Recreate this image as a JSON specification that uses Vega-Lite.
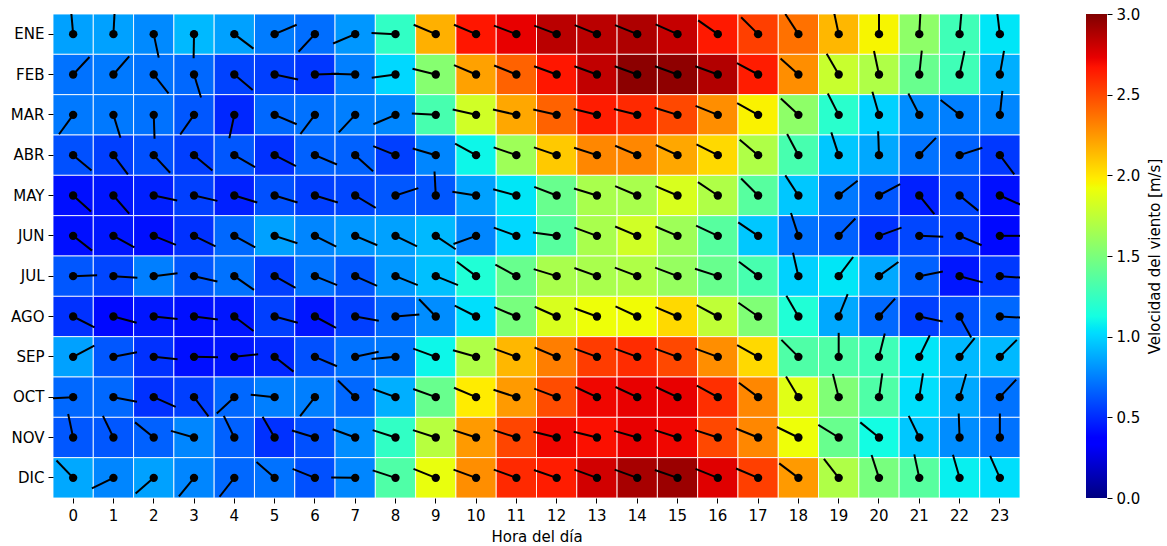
{
  "$schema": "https://vega.github.io/schema/vega-lite/v6.json",
  "padding": {"left": 10, "top": 7, "right": 0, "bottom": 0},
  "background": "white",
  "spacing": 65,
  "config": {
    "view": {"stroke": null},
    "font": "DejaVu Sans",
    "axis": {
      "domain": false,
      "grid": false,
      "ticks": true,
      "tickColor": "black",
      "tickSize": 5,
      "tickWidth": 1,
      "labelFont": "DejaVu Sans",
      "labelFontSize": 15,
      "labelColor": "black",
      "labelPadding": 4,
      "titleFont": "DejaVu Sans",
      "titleFontSize": 15,
      "titleFontWeight": "normal",
      "titleColor": "black"
    }
  },
  "datasets": {
    "wind": [
      {"m":"ENE","h":0,"v":0.85,"d":355},{"m":"ENE","h":1,"v":0.85,"d":3},{"m":"ENE","h":2,"v":0.78,"d":168},{"m":"ENE","h":3,"v":0.92,"d":181},{"m":"ENE","h":4,"v":0.85,"d":127},{"m":"ENE","h":5,"v":0.74,"d":67},{"m":"ENE","h":6,"v":0.70,"d":223},{"m":"ENE","h":7,"v":0.82,"d":247},{"m":"ENE","h":8,"v":1.23,"d":273},{"m":"ENE","h":9,"v":2.17,"d":293},{"m":"ENE","h":10,"v":2.66,"d":293},{"m":"ENE","h":11,"v":2.73,"d":291},{"m":"ENE","h":12,"v":2.85,"d":291},{"m":"ENE","h":13,"v":2.85,"d":292},{"m":"ENE","h":14,"v":2.88,"d":292},{"m":"ENE","h":15,"v":2.82,"d":294},{"m":"ENE","h":16,"v":2.65,"d":305},{"m":"ENE","h":17,"v":2.53,"d":315},{"m":"ENE","h":18,"v":2.37,"d":327},{"m":"ENE","h":19,"v":2.15,"d":348},{"m":"ENE","h":20,"v":1.95,"d":0},{"m":"ENE","h":21,"v":1.57,"d":3},{"m":"ENE","h":22,"v":1.28,"d":5},{"m":"ENE","h":23,"v":1.05,"d":353},
      {"m":"FEB","h":0,"v":0.71,"d":43},{"m":"FEB","h":1,"v":0.73,"d":41},{"m":"FEB","h":2,"v":0.71,"d":142},{"m":"FEB","h":3,"v":0.68,"d":163},{"m":"FEB","h":4,"v":0.57,"d":130},{"m":"FEB","h":5,"v":0.56,"d":102},{"m":"FEB","h":6,"v":0.53,"d":88},{"m":"FEB","h":7,"v":0.75,"d":272},{"m":"FEB","h":8,"v":1.01,"d":262},{"m":"FEB","h":9,"v":1.54,"d":284},{"m":"FEB","h":10,"v":2.22,"d":293},{"m":"FEB","h":11,"v":2.42,"d":292},{"m":"FEB","h":12,"v":2.66,"d":290},{"m":"FEB","h":13,"v":2.83,"d":290},{"m":"FEB","h":14,"v":2.97,"d":290},{"m":"FEB","h":15,"v":2.96,"d":290},{"m":"FEB","h":16,"v":2.87,"d":290},{"m":"FEB","h":17,"v":2.64,"d":298},{"m":"FEB","h":18,"v":2.28,"d":312},{"m":"FEB","h":19,"v":1.78,"d":330},{"m":"FEB","h":20,"v":1.69,"d":348},{"m":"FEB","h":21,"v":1.43,"d":6},{"m":"FEB","h":22,"v":1.28,"d":12},{"m":"FEB","h":23,"v":0.89,"d":10},
      {"m":"MAR","h":0,"v":0.73,"d":216},{"m":"MAR","h":1,"v":0.73,"d":163},{"m":"MAR","h":2,"v":0.71,"d":178},{"m":"MAR","h":3,"v":0.63,"d":215},{"m":"MAR","h":4,"v":0.49,"d":192},{"m":"MAR","h":5,"v":0.68,"d":113},{"m":"MAR","h":6,"v":0.71,"d":217},{"m":"MAR","h":7,"v":0.75,"d":223},{"m":"MAR","h":8,"v":0.77,"d":247},{"m":"MAR","h":9,"v":1.31,"d":273},{"m":"MAR","h":10,"v":1.81,"d":283},{"m":"MAR","h":11,"v":2.2,"d":283},{"m":"MAR","h":12,"v":2.42,"d":283},{"m":"MAR","h":13,"v":2.64,"d":284},{"m":"MAR","h":14,"v":2.6,"d":284},{"m":"MAR","h":15,"v":2.5,"d":287},{"m":"MAR","h":16,"v":2.28,"d":292},{"m":"MAR","h":17,"v":1.96,"d":299},{"m":"MAR","h":18,"v":1.57,"d":313},{"m":"MAR","h":19,"v":1.2,"d":333},{"m":"MAR","h":20,"v":0.99,"d":344},{"m":"MAR","h":21,"v":0.79,"d":333},{"m":"MAR","h":22,"v":0.75,"d":308},{"m":"MAR","h":23,"v":0.77,"d":6},
      {"m":"ABR","h":0,"v":0.61,"d":130},{"m":"ABR","h":1,"v":0.56,"d":143},{"m":"ABR","h":2,"v":0.61,"d":137},{"m":"ABR","h":3,"v":0.56,"d":130},{"m":"ABR","h":4,"v":0.63,"d":120},{"m":"ABR","h":5,"v":0.52,"d":117},{"m":"ABR","h":6,"v":0.66,"d":113},{"m":"ABR","h":7,"v":0.66,"d":132},{"m":"ABR","h":8,"v":0.56,"d":292},{"m":"ABR","h":9,"v":0.77,"d":286},{"m":"ABR","h":10,"v":1.1,"d":299},{"m":"ABR","h":11,"v":1.63,"d":289},{"m":"ABR","h":12,"v":2.09,"d":289},{"m":"ABR","h":13,"v":2.3,"d":288},{"m":"ABR","h":14,"v":2.3,"d":293},{"m":"ABR","h":15,"v":2.2,"d":295},{"m":"ABR","h":16,"v":2.04,"d":297},{"m":"ABR","h":17,"v":1.69,"d":310},{"m":"ABR","h":18,"v":1.31,"d":332},{"m":"ABR","h":19,"v":0.96,"d":342},{"m":"ABR","h":20,"v":0.87,"d":358},{"m":"ABR","h":21,"v":0.71,"d":44},{"m":"ABR","h":22,"v":0.66,"d":72},{"m":"ABR","h":23,"v":0.54,"d":143},
      {"m":"MAY","h":0,"v":0.42,"d":132},{"m":"MAY","h":1,"v":0.44,"d":139},{"m":"MAY","h":2,"v":0.47,"d":102},{"m":"MAY","h":3,"v":0.56,"d":103},{"m":"MAY","h":4,"v":0.47,"d":107},{"m":"MAY","h":5,"v":0.61,"d":107},{"m":"MAY","h":6,"v":0.56,"d":107},{"m":"MAY","h":7,"v":0.58,"d":121},{"m":"MAY","h":8,"v":0.63,"d":72},{"m":"MAY","h":9,"v":0.63,"d":357},{"m":"MAY","h":10,"v":0.85,"d":279},{"m":"MAY","h":11,"v":1.05,"d":285},{"m":"MAY","h":12,"v":1.43,"d":291},{"m":"MAY","h":13,"v":1.67,"d":287},{"m":"MAY","h":14,"v":1.67,"d":293},{"m":"MAY","h":15,"v":1.84,"d":293},{"m":"MAY","h":16,"v":1.69,"d":304},{"m":"MAY","h":17,"v":1.37,"d":315},{"m":"MAY","h":18,"v":0.96,"d":327},{"m":"MAY","h":19,"v":0.73,"d":52},{"m":"MAY","h":20,"v":0.63,"d":62},{"m":"MAY","h":21,"v":0.47,"d":141},{"m":"MAY","h":22,"v":0.58,"d":129},{"m":"MAY","h":23,"v":0.42,"d":114},
      {"m":"JUN","h":0,"v":0.42,"d":128},{"m":"JUN","h":1,"v":0.44,"d":119},{"m":"JUN","h":2,"v":0.42,"d":112},{"m":"JUN","h":3,"v":0.52,"d":116},{"m":"JUN","h":4,"v":0.68,"d":119},{"m":"JUN","h":5,"v":0.85,"d":108},{"m":"JUN","h":6,"v":0.77,"d":117},{"m":"JUN","h":7,"v":0.82,"d":113},{"m":"JUN","h":8,"v":0.85,"d":116},{"m":"JUN","h":9,"v":0.92,"d":124},{"m":"JUN","h":10,"v":0.77,"d":250},{"m":"JUN","h":11,"v":1.01,"d":290},{"m":"JUN","h":12,"v":1.37,"d":278},{"m":"JUN","h":13,"v":1.67,"d":290},{"m":"JUN","h":14,"v":1.81,"d":293},{"m":"JUN","h":15,"v":1.63,"d":293},{"m":"JUN","h":16,"v":1.37,"d":295},{"m":"JUN","h":17,"v":0.96,"d":304},{"m":"JUN","h":18,"v":0.71,"d":342},{"m":"JUN","h":19,"v":0.66,"d":44},{"m":"JUN","h":20,"v":0.52,"d":70},{"m":"JUN","h":21,"v":0.58,"d":92},{"m":"JUN","h":22,"v":0.56,"d":113},{"m":"JUN","h":23,"v":0.40,"d":90},
      {"m":"JUL","h":0,"v":0.63,"d":88},{"m":"JUL","h":1,"v":0.58,"d":94},{"m":"JUL","h":2,"v":0.75,"d":83},{"m":"JUL","h":3,"v":0.63,"d":103},{"m":"JUL","h":4,"v":0.71,"d":125},{"m":"JUL","h":5,"v":0.56,"d":119},{"m":"JUL","h":6,"v":0.71,"d":112},{"m":"JUL","h":7,"v":0.63,"d":114},{"m":"JUL","h":8,"v":0.82,"d":112},{"m":"JUL","h":9,"v":0.94,"d":112},{"m":"JUL","h":10,"v":1.17,"d":307},{"m":"JUL","h":11,"v":1.43,"d":299},{"m":"JUL","h":12,"v":1.67,"d":287},{"m":"JUL","h":13,"v":1.67,"d":290},{"m":"JUL","h":14,"v":1.69,"d":291},{"m":"JUL","h":15,"v":1.6,"d":291},{"m":"JUL","h":16,"v":1.43,"d":288},{"m":"JUL","h":17,"v":1.31,"d":307},{"m":"JUL","h":18,"v":0.99,"d":347},{"m":"JUL","h":19,"v":1.05,"d":37},{"m":"JUL","h":20,"v":0.87,"d":54},{"m":"JUL","h":21,"v":0.66,"d":79},{"m":"JUL","h":22,"v":0.44,"d":105},{"m":"JUL","h":23,"v":0.54,"d":94},
      {"m":"AGO","h":0,"v":0.52,"d":117},{"m":"AGO","h":1,"v":0.40,"d":105},{"m":"AGO","h":2,"v":0.44,"d":96},{"m":"AGO","h":3,"v":0.42,"d":97},{"m":"AGO","h":4,"v":0.44,"d":127},{"m":"AGO","h":5,"v":0.56,"d":105},{"m":"AGO","h":6,"v":0.44,"d":118},{"m":"AGO","h":7,"v":0.56,"d":100},{"m":"AGO","h":8,"v":0.68,"d":85},{"m":"AGO","h":9,"v":0.79,"d":316},{"m":"AGO","h":10,"v":1.03,"d":297},{"m":"AGO","h":11,"v":1.49,"d":293},{"m":"AGO","h":12,"v":1.84,"d":294},{"m":"AGO","h":13,"v":1.92,"d":290},{"m":"AGO","h":14,"v":1.93,"d":295},{"m":"AGO","h":15,"v":2.04,"d":293},{"m":"AGO","h":16,"v":1.75,"d":298},{"m":"AGO","h":17,"v":1.52,"d":305},{"m":"AGO","h":18,"v":1.17,"d":330},{"m":"AGO","h":19,"v":0.87,"d":22},{"m":"AGO","h":20,"v":0.68,"d":42},{"m":"AGO","h":21,"v":0.56,"d":102},{"m":"AGO","h":22,"v":0.61,"d":151},{"m":"AGO","h":23,"v":0.68,"d":93},
      {"m":"SEP","h":0,"v":0.85,"d":62},{"m":"SEP","h":1,"v":0.63,"d":79},{"m":"SEP","h":2,"v":0.52,"d":96},{"m":"SEP","h":3,"v":0.42,"d":91},{"m":"SEP","h":4,"v":0.44,"d":84},{"m":"SEP","h":5,"v":0.49,"d":128},{"m":"SEP","h":6,"v":0.61,"d":113},{"m":"SEP","h":7,"v":0.71,"d":78},{"m":"SEP","h":8,"v":0.73,"d":265},{"m":"SEP","h":9,"v":1.1,"d":290},{"m":"SEP","h":10,"v":1.69,"d":286},{"m":"SEP","h":11,"v":2.15,"d":290},{"m":"SEP","h":12,"v":2.33,"d":293},{"m":"SEP","h":13,"v":2.54,"d":290},{"m":"SEP","h":14,"v":2.59,"d":290},{"m":"SEP","h":15,"v":2.5,"d":290},{"m":"SEP","h":16,"v":2.28,"d":290},{"m":"SEP","h":17,"v":2.04,"d":299},{"m":"SEP","h":18,"v":1.34,"d":315},{"m":"SEP","h":19,"v":1.34,"d":0},{"m":"SEP","h":20,"v":1.28,"d":14},{"m":"SEP","h":21,"v":1.05,"d":26},{"m":"SEP","h":22,"v":0.92,"d":39},{"m":"SEP","h":23,"v":0.92,"d":45},
      {"m":"OCT","h":0,"v":0.68,"d":267},{"m":"OCT","h":1,"v":0.68,"d":101},{"m":"OCT","h":2,"v":0.52,"d":114},{"m":"OCT","h":3,"v":0.56,"d":143},{"m":"OCT","h":4,"v":0.68,"d":227},{"m":"OCT","h":5,"v":0.75,"d":276},{"m":"OCT","h":6,"v":0.75,"d":218},{"m":"OCT","h":7,"v":0.68,"d":314},{"m":"OCT","h":8,"v":0.89,"d":290},{"m":"OCT","h":9,"v":1.43,"d":290},{"m":"OCT","h":10,"v":1.98,"d":293},{"m":"OCT","h":11,"v":2.24,"d":288},{"m":"OCT","h":12,"v":2.49,"d":291},{"m":"OCT","h":13,"v":2.71,"d":295},{"m":"OCT","h":14,"v":2.73,"d":295},{"m":"OCT","h":15,"v":2.73,"d":295},{"m":"OCT","h":16,"v":2.58,"d":299},{"m":"OCT","h":17,"v":2.3,"d":307},{"m":"OCT","h":18,"v":1.87,"d":329},{"m":"OCT","h":19,"v":1.52,"d":346},{"m":"OCT","h":20,"v":1.34,"d":8},{"m":"OCT","h":21,"v":1.03,"d":9},{"m":"OCT","h":22,"v":0.87,"d":16},{"m":"OCT","h":23,"v":0.71,"d":43},
      {"m":"NOV","h":0,"v":0.63,"d":348},{"m":"NOV","h":1,"v":0.63,"d":334},{"m":"NOV","h":2,"v":0.66,"d":309},{"m":"NOV","h":3,"v":0.77,"d":286},{"m":"NOV","h":4,"v":0.66,"d":334},{"m":"NOV","h":5,"v":0.52,"d":330},{"m":"NOV","h":6,"v":0.61,"d":287},{"m":"NOV","h":7,"v":0.79,"d":290},{"m":"NOV","h":8,"v":1.23,"d":288},{"m":"NOV","h":9,"v":1.72,"d":288},{"m":"NOV","h":10,"v":2.24,"d":288},{"m":"NOV","h":11,"v":2.51,"d":288},{"m":"NOV","h":12,"v":2.71,"d":284},{"m":"NOV","h":13,"v":2.68,"d":284},{"m":"NOV","h":14,"v":2.73,"d":286},{"m":"NOV","h":15,"v":2.71,"d":288},{"m":"NOV","h":16,"v":2.5,"d":288},{"m":"NOV","h":17,"v":2.3,"d":292},{"m":"NOV","h":18,"v":1.92,"d":296},{"m":"NOV","h":19,"v":1.43,"d":302},{"m":"NOV","h":20,"v":1.12,"d":309},{"m":"NOV","h":21,"v":0.96,"d":334},{"m":"NOV","h":22,"v":0.79,"d":358},{"m":"NOV","h":23,"v":0.71,"d":0},
      {"m":"DIC","h":0,"v":0.87,"d":316},{"m":"DIC","h":1,"v":0.77,"d":244},{"m":"DIC","h":2,"v":0.85,"d":229},{"m":"DIC","h":3,"v":0.77,"d":219},{"m":"DIC","h":4,"v":0.68,"d":218},{"m":"DIC","h":5,"v":0.71,"d":311},{"m":"DIC","h":6,"v":0.61,"d":292},{"m":"DIC","h":7,"v":0.77,"d":271},{"m":"DIC","h":8,"v":1.34,"d":288},{"m":"DIC","h":9,"v":1.9,"d":292},{"m":"DIC","h":10,"v":2.28,"d":290},{"m":"DIC","h":11,"v":2.6,"d":290},{"m":"DIC","h":12,"v":2.64,"d":289},{"m":"DIC","h":13,"v":2.79,"d":290},{"m":"DIC","h":14,"v":2.9,"d":290},{"m":"DIC","h":15,"v":2.93,"d":289},{"m":"DIC","h":16,"v":2.75,"d":292},{"m":"DIC","h":17,"v":2.53,"d":293},{"m":"DIC","h":18,"v":2.24,"d":307},{"m":"DIC","h":19,"v":1.69,"d":322},{"m":"DIC","h":20,"v":1.49,"d":342},{"m":"DIC","h":21,"v":1.37,"d":348},{"m":"DIC","h":22,"v":1.08,"d":344},{"m":"DIC","h":23,"v":1.03,"d":336}
    ]
  },
  "hconcat": [
    {
      "width": 967,
      "height": 484,
      "data": {"name": "wind"},
      "encoding": {
        "x": {"field": "h", "type": "ordinal", "scale": {"type": "band", "paddingInner": 0, "paddingOuter": 0}, "axis": {"title": "Hora del día", "labelAngle": 0, "labelPadding": 5, "titlePadding": 6}},
        "y": {"field": "m", "type": "ordinal", "sort": ["ENE","FEB","MAR","ABR","MAY","JUN","JUL","AGO","SEP","OCT","NOV","DIC"], "scale": {"type": "band", "paddingInner": 0, "paddingOuter": 0}, "axis": {"title": null}}
      },
      "layer": [
        {
          "mark": {"type": "rect", "stroke": "white", "strokeWidth": 1, "strokeOpacity": 0.85},
          "encoding": {
            "color": {
              "field": "v", "type": "quantitative", "legend": null,
              "scale": {
                "domain": [0, 0.33, 0.375, 1.02, 1.05, 1.125, 1.92, 1.95, 1.98, 2.67, 2.73, 3],
                "range": ["#000080", "#0000FF", "#0000FF", "#00DBFF", "#00E6F7", "#14FFE2", "#EEFF08", "#F7F500", "#FFEC00", "#FF1300", "#E80000", "#800000"],
                "interpolate": "rgb"
              }
            }
          }
        },
        {
          "mark": {"type": "point", "shape": "M0,0L0,-1", "size": 2304, "filled": false, "stroke": "black", "strokeWidth": 2, "opacity": 1, "clip": true},
          "encoding": {
            "angle": {"field": "d", "type": "quantitative", "scale": {"domain": [0, 360], "range": [0, 360]}}
          }
        },
        {
          "mark": {"type": "point", "shape": "circle", "size": 70, "filled": true, "color": "black", "opacity": 1}
        }
      ]
    },
    {
      "width": 21,
      "height": 484,
      "data": {"values": [{"lo": 0, "hi": 3}]},
      "mark": {
        "type": "rect",
        "fill": {
          "gradient": "linear", "x1": 0, "y1": 1, "x2": 0, "y2": 0,
          "stops": [
            {"offset": 0, "color": "#000080"},
            {"offset": 0.11, "color": "#0000FF"},
            {"offset": 0.125, "color": "#0000FF"},
            {"offset": 0.34, "color": "#00DBFF"},
            {"offset": 0.35, "color": "#00E6F7"},
            {"offset": 0.375, "color": "#14FFE2"},
            {"offset": 0.64, "color": "#EEFF08"},
            {"offset": 0.65, "color": "#F7F500"},
            {"offset": 0.66, "color": "#FFEC00"},
            {"offset": 0.89, "color": "#FF1300"},
            {"offset": 0.91, "color": "#E80000"},
            {"offset": 1, "color": "#800000"}
          ]
        }
      },
      "encoding": {
        "y": {"field": "lo", "type": "quantitative", "scale": {"domain": [0, 3], "nice": false, "zero": false}, "axis": {"orient": "right", "values": [0, 0.5, 1, 1.5, 2, 2.5, 3], "format": ".1f", "title": "Velocidad del viento [m/s]", "titleAngle": 270, "titleBaseline": "top", "titlePadding": 8}},
        "y2": {"field": "hi"}
      }
    }
  ]
}
